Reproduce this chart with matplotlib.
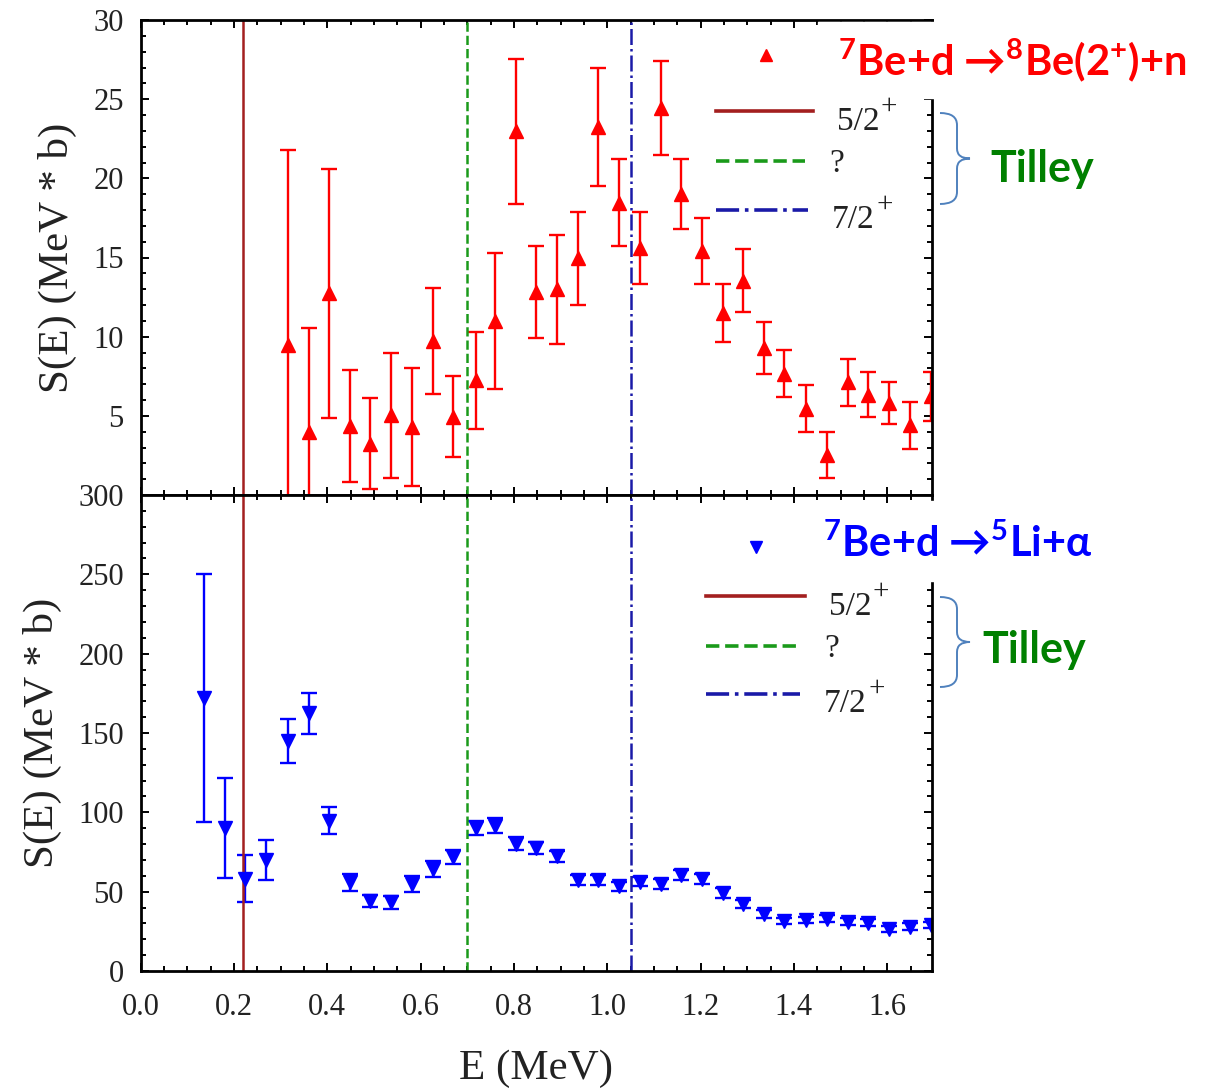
import matplotlib
matplotlib.use("Agg")
import matplotlib.pyplot as plt
from matplotlib.lines import Line2D
from matplotlib.path import Path
from matplotlib.patches import PathPatch, Rectangle

plt.rcParams['font.family'] = ['Liberation Serif', 'DejaVu Serif']

# ---------------- data ----------------
# 7Be+d -> 8Be(2+)+n
e_n = [0.315, 0.360, 0.404, 0.449, 0.492, 0.537, 0.582, 0.626, 0.669, 0.718,
       0.760, 0.804, 0.847, 0.893, 0.937, 0.981, 1.025, 1.070, 1.115, 1.158,
       1.203, 1.248, 1.292, 1.337, 1.379, 1.426, 1.470, 1.515, 1.559, 1.604,
       1.649, 1.693]
s_n = [9.45, 3.97, 12.74, 4.35, 3.24, 5.04, 4.32, 9.75, 4.95, 7.25,
       10.98, 22.98, 12.8, 12.98, 14.95, 23.25, 18.45, 15.6, 24.45, 19.0,
       15.43, 11.48, 13.53, 9.28, 7.66, 5.45, 2.53, 7.13, 6.34, 5.82,
       4.39, 6.25]
err_n = [12.35, 6.6, 7.87, 3.55, 2.86, 3.94, 3.72, 3.35, 2.55, 3.05,
         4.28, 4.58, 2.9, 3.43, 2.95, 3.75, 2.75, 2.3, 2.95, 2.2,
         2.08, 1.82, 1.98, 1.62, 1.48, 1.48, 1.45, 1.48, 1.44, 1.32,
         1.49, 1.55]

# 7Be+d -> 5Li+alpha
e_a = [0.136, 0.181, 0.224, 0.269] + e_n
s_a = [172, 90.3, 58.2, 70, 145, 162.4, 94.8, 55.8, 44.2, 43.2,
       54.8, 64.2, 72, 90.1, 91.6, 80.3, 77.5, 72.2, 57.5, 57.3,
       53.3, 56.4, 54.8, 60.4, 57.9, 49.1, 42.1, 35.8, 31.6, 32.2,
       33, 31.1, 30.5, 26.3, 28, 28.9]
err_a = [78, 31.4, 15, 12.7, 14, 12.9, 8.5, 5.3, 4, 4,
         5, 5, 4.5, 4.7, 4.7, 4, 3.5, 3.5, 3, 3,
         3, 3, 3, 3, 3, 3, 2.5, 2.5, 2, 2,
         2, 2, 2, 2, 2, 2]

# Tilley levels
levels = [0.22, 0.70, 1.05]
level_labels = ['5/2', '?', '7/2']
level_sup = ['+', '', '+']
level_colors = ['#a31f1f', '#1a9a1a', '#1a1aa8']
level_styles = ['-', '--', '-.']

W, H = 1205, 1089


def px(x, y):
    return x / W, 1 - y / H


fig = plt.figure(figsize=(W / 100, H / 100), dpi=100)
ax1 = fig.add_axes([140.5 / W, 1 - 495 / H, 791 / W, 475 / H])
ax2 = fig.add_axes([140.5 / W, 1 - 971 / H, 791 / W, 476 / H], sharex=ax1)

ax1.errorbar(e_n, s_n, yerr=err_n, fmt='^', color='#ff0000', ms=10,
             elinewidth=1.7, capsize=6, capthick=1.7)
ax2.errorbar(e_a, s_a, yerr=err_a, fmt='v', color='#0000ff', ms=10,
             elinewidth=1.7, capsize=6, capthick=1.7)

for ax in (ax1, ax2):
    for x, c, ls in zip(levels, level_colors, level_styles):
        ax.axvline(x, color=c, ls=ls, lw=1.8)
    ax.tick_params(which='both', direction='in', top=True, right=True,
                   labelsize=22, width=1.4, labelcolor='#222222')
    ax.tick_params(which='major', length=6)
    ax.tick_params(which='minor', length=3.5)
    ax.tick_params(axis='y', pad=12)
    for sp in ax.spines.values():
        sp.set_linewidth(2)
    ax.set_ylabel('S(E) (MeV * b)', fontsize=31, labelpad=12, color='#222222')

ax1.set_xlim(0, 1.695)
ax1.set_xticks([0.0, 0.2, 0.4, 0.6, 0.8, 1.0, 1.2, 1.4, 1.6])
ax1.set_xticks([i * 0.05 for i in range(34)], minor=True)
ax1.tick_params(labelbottom=False)

ax1.set_ylim(0, 30)
ax1.set_yticks([0, 5, 10, 15, 20, 25, 30])
ax1.set_yticklabels(['', '5', '10', '15', '20', '25', '30'])
ax1.set_yticks(range(31), minor=True)

ax2.set_ylim(0, 300)
ax2.set_yticks(range(0, 301, 50))
ax2.set_yticks(range(0, 301, 10), minor=True)
ax2.set_xticklabels(['0.0', '0.2', '0.4', '0.6', '0.8', '1.0', '1.2', '1.4', '1.6'])
ax2.tick_params(axis='x', pad=16)
ax2.set_xlabel('E (MeV)', fontsize=31, labelpad=20, color='#222222')

# white boxes over the top-right corners, as in the original
fig.add_artist(Rectangle(px(818, 98), (W - 818) / W, 76 / H,
                         transform=fig.transFigure, color='white', zorder=5))
fig.add_artist(Rectangle(px(920, 581), (W - 920) / W, 80 / H,
                         transform=fig.transFigure, color='white', zorder=5))

# ---------------- legends ----------------
bold = dict(family=['Lato', 'DejaVu Sans'], weight='bold')


def legend_block(marker, mcolor, mpos, title, tpos, rows, tilley, brace):
    fig.add_artist(Line2D(*[[v] for v in px(*mpos)], marker=marker, color=mcolor,
                          ms=9, ls='none', transform=fig.transFigure, zorder=6))
    fig.text(*px(*tpos), title, color=mcolor, va='baseline', zorder=6,
             fontsize=30, **bold)
    for (x0, x1, y, ty), lab, sup, c, ls in zip(rows, level_labels, level_sup,
                                                level_colors, level_styles):
        xa, ya = px(x0, y)
        xb, _ = px(x1, y)
        fig.add_artist(Line2D([xa, xb], [ya, ya], color=c, ls=ls, lw=2.6,
                              transform=fig.transFigure, zorder=6))
        tx = x1 + 24
        fig.text(*px(tx, ty), lab, fontsize=24, va='baseline', color='#222222', zorder=6)
        if sup:
            fig.text(*px(tx + 44, ty - 16), sup, fontsize=21, va='baseline',
                     color='#222222', zorder=6)
    fig.text(*px(*tilley), 'Tilley', color='#008000', va='baseline', zorder=6,
             fontsize=31, **bold)
    x0, y0, y1 = brace
    ym = (y0 + y1) / 2
    pts = [(x0, y0), (x0 + 17, y0), (x0 + 17, y0 + 12), (x0 + 17, ym - 10),
           (x0 + 17, ym), (x0 + 30, ym), (x0 + 17, ym), (x0 + 17, ym + 10),
           (x0 + 17, y1 - 12), (x0 + 17, y1), (x0, y1)]
    codes = [Path.MOVETO, Path.CURVE3, Path.CURVE3, Path.LINETO,
             Path.CURVE3, Path.CURVE3, Path.CURVE3, Path.CURVE3,
             Path.LINETO, Path.CURVE3, Path.CURVE3]
    path = Path([px(*p) for p in pts], codes)
    fig.add_artist(PathPatch(path, fc='none', ec='#4f81bd', lw=1.4,
                             transform=fig.transFigure, zorder=6))


legend_block('^', '#ff0000', (766, 55),
             '$^{\\mathregular{7}}$Be+d \u2192$^{\\mathregular{8}}$Be(2$^{\\mathregular{+}}$)+n',
             (838, 76),
             [(716, 813, 111, 130), (716, 805, 161, 172), (716, 808, 210, 228)],
             (990, 182), (940, 113, 204))
legend_block('v', '#0000ff', (756, 547),
             '$^{\\mathregular{7}}$Be+d \u2192$^{\\mathregular{5}}$Li+\u03b1',
             (823, 557),
             [(706, 805, 596, 615), (706, 800, 646, 657), (706, 800, 694, 712)],
             (982, 663), (940, 597, 687))

fig.savefig('out.png', dpi=100)
